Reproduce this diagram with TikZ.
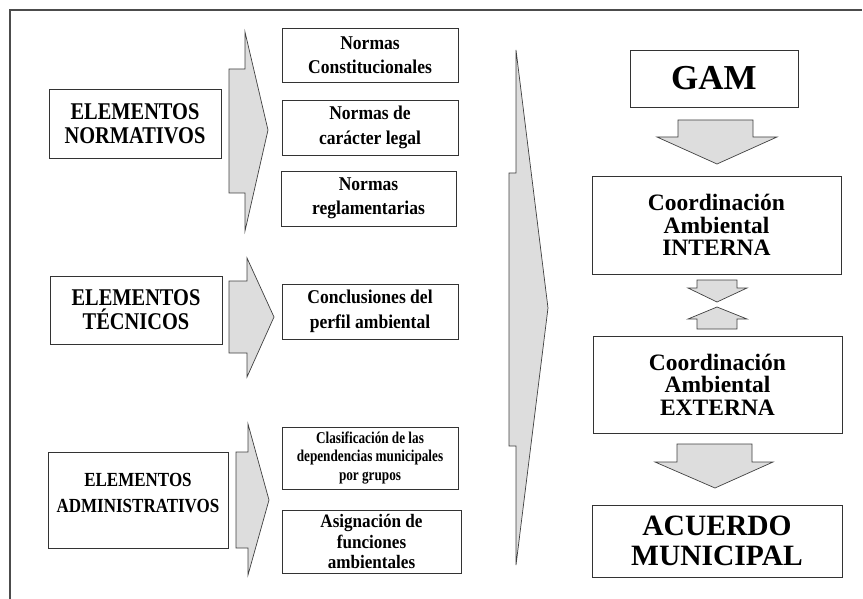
\documentclass[tikz,border=0pt]{standalone}
\usepackage{fontspec}
\setmainfont{Liberation Serif}
\newfontfamily\condfont[FakeStretch=0.8]{Liberation Serif}
\newfontfamily\tallfont[FakeStretch=0.85]{Liberation Serif}
\newfontfamily\midfont[FakeStretch=0.9]{Liberation Serif}

\begin{document}
\begin{tikzpicture}[x=1pt,y=-1pt]
  \tikzset{box/.style={draw=black!80,line width=.9pt,fill=white,align=center,inner sep=0pt,font=\bfseries},
    blockarrow/.style={draw=black!75,line width=.7pt,fill=gray!27,line join=miter},
    elembox/.style={box,font=\tallfont\bfseries\fontsize{24}{24}\selectfont},
    normbox/.style={box,font=\midfont\bfseries\fontsize{19.5}{24.5}\selectfont},
    coordbox/.style={box,minimum width=249,font=\bfseries\fontsize{23.5}{22.5}\selectfont}}
  \useasboundingbox (0,0) rectangle (863,599);
  \draw[gray!60!black,line width=1.4pt] (10,599) -- (10,10) -- (862,10);
  % chevrons
  \draw[blockarrow] (229,69) -- (245,69) -- (245,32) -- (268,130) -- (245,231) -- (245,193) -- (229,193) -- cycle;
  \draw[blockarrow] (229,281) -- (247,281) -- (247,258) -- (274,317) -- (247,377) -- (247,353) -- (229,353) -- cycle;
  \draw[blockarrow] (236,452) -- (248,452) -- (248,424) -- (269,500) -- (248,575) -- (248,548) -- (236,548) -- cycle;
  \draw[blockarrow] (509,173) -- (516,173) -- (516,50) -- (548,308) -- (516,565) -- (516,446) -- (509,446) -- cycle;
  % right column
  \draw[blockarrow] (678,120) -- (753,120) -- (753,137) -- (777,137) -- (717,164) -- (657,137) -- (678,137) -- cycle;
  \draw[blockarrow] (697,280) -- (737,280) -- (737,288) -- (747,288) -- (717,302) -- (688,288) -- (697,288) -- cycle;
  \draw[blockarrow] (697,329) -- (737,329) -- (737,319) -- (747,319) -- (717,307) -- (688,319) -- (697,319) -- cycle;
  \draw[blockarrow] (677,444) -- (752,444) -- (752,462) -- (773,462) -- (715,488) -- (655,462) -- (677,462) -- cycle;

  \node[elembox,minimum width=172,minimum height=69] (normativos) at (135,123.5) {ELEMENTOS\\NORMATIVOS};
  \node[elembox,minimum width=172,minimum height=68] (tecnicos) at (136,310) {ELEMENTOS\\TÉCNICOS};
  \node[box,minimum width=180,minimum height=96] (administrativos) at (138,500) {};
  \node[font=\tallfont\bfseries\fontsize{20}{26}\selectfont,align=center,inner sep=0pt] (administrativos-text) at (138,493) {ELEMENTOS\\ADMINISTRATIVOS};

  \node[normbox,minimum width=176,minimum height=54] (constitucionales) at (370,55) {Normas\\Constitucionales};
  \node[normbox,minimum width=176,minimum height=55] (legal) at (370,127.5) {Normas de\\carácter legal};
  \node[normbox,minimum width=175,minimum height=55] (reglamentarias) at (368.5,198.5) {Normas\\reglamentarias};
  \node[normbox,minimum width=176,minimum height=55] (conclusiones) at (370,311.5) {Conclusiones del\\perfil ambiental};
  \node[box,minimum width=176,minimum height=62,font=\condfont\bfseries\fontsize{16.5}{18.5}\selectfont] (clasificacion) at (370,458) {Clasificación de las\\dependencias municipales\\por grupos};
  \node[box,minimum width=179,minimum height=63,font=\midfont\bfseries\fontsize{19}{20.5}\selectfont] (asignacion) at (371.5,541.5) {Asignación de\\funciones\\ambientales};

  \node[box,minimum width=168,minimum height=57,font=\bfseries\fontsize{35}{40}\selectfont] (gam) at (714,78.5) {GAM};
  \node[coordbox,minimum height=98] (interna) at (716.5,225) {Coordinación\\Ambiental\\INTERNA};
  \node[coordbox,minimum height=97] (externa) at (717.5,384.5) {Coordinación\\Ambiental\\EXTERNA};
  \node[box,minimum width=250,minimum height=72,font=\bfseries\fontsize{29.5}{30}\selectfont] (acuerdo) at (717,541) {ACUERDO\\MUNICIPAL};
\end{tikzpicture}
\end{document}
